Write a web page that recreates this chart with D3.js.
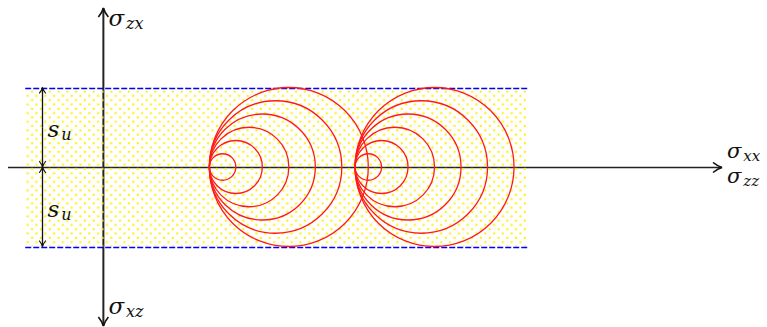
<!DOCTYPE html>
<html>
<head>
<meta charset="utf-8">
<script src="https://cdn.jsdelivr.net/npm/d3@7"></script>
<style>
  body { margin: 0; background: #fff; }
  svg { display: block; }
</style>
</head>
<body>
<div id="chart-area"></div>
<script>
// Mohr circles between the two s_u limits

var width = 767, height = 327;

// data (units: s_u / 6)
var radii = [1, 2, 3, 4, 5, 6];
var tangentPoints = [8, 19];
var su = 6;
var bandX = [-5.9, 32];
var xAxisExtent = [-7.2, 46.7];
var yAxisExtent = [-12, 12];
var labels = { up: ["σ", "zx"], down: ["σ", "xz"], right1: ["σ", "xx"], right2: ["σ", "zz"], su: ["s", "u"] };

var svg = d3.select("#chart-area").append("svg")
  .attr("width", width)
  .attr("height", height);

// Scales
var x = d3.scaleLinear().domain(xAxisExtent).range([8, 722]);
var y = d3.scaleLinear().domain(yAxisExtent).range([326, 8]);
var snap = function(v) { return Math.round(v) + 0.5; };

var defs = svg.append("defs");

// yellow dot fill
var pat = defs.append("pattern")
  .attr("id", "dots")
  .attr("patternUnits", "userSpaceOnUse")
  .attr("width", 8.8)
  .attr("height", 8.6);
pat.append("rect").attr("x", 0.3).attr("y", 0.3).attr("width", 2).attr("height", 2).attr("fill", "#ffee00");
pat.append("rect").attr("x", 4.7).attr("y", 4.6).attr("width", 2).attr("height", 2).attr("fill", "#ffee00");

function marker(id, size) {
  var m = defs.append("marker")
    .attr("id", id)
    .attr("viewBox", "-10 -6 12 12")
    .attr("refX", 0).attr("refY", 0)
    .attr("markerUnits", "userSpaceOnUse")
    .attr("markerWidth", size).attr("markerHeight", size)
    .attr("orient", "auto");
  m.append("path")
    .attr("d", "M-9,-5 Q-4,-1 0,0 Q-4,1 -9,5")
    .attr("fill", "none")
    .attr("stroke", "#111")
    .attr("stroke-width", 1.6);
}
marker("arr", 12);
marker("arrSmall", 8);

var g = svg.append("g");

// axes
g.append("line")
  .attr("x1", x(xAxisExtent[0])).attr("x2", x(xAxisExtent[1]))
  .attr("y1", snap(y(0))).attr("y2", snap(y(0)))
  .attr("stroke", "#222").attr("stroke-width", 1.5)
  .attr("marker-end", "url(#arr)");

g.append("line")
  .attr("x1", x(0)).attr("x2", x(0))
  .attr("y1", y(0)).attr("y2", y(yAxisExtent[1]))
  .attr("stroke", "#222").attr("stroke-width", 2)
  .attr("marker-end", "url(#arr)");
g.append("line")
  .attr("x1", x(0)).attr("x2", x(0))
  .attr("y1", y(0)).attr("y2", y(yAxisExtent[0]))
  .attr("stroke", "#222").attr("stroke-width", 2)
  .attr("marker-end", "url(#arr)");

// dotted band on top of the axes
g.append("rect")
  .attr("x", x(bandX[0]))
  .attr("y", y(su))
  .attr("width", x(bandX[1]) - x(bandX[0]))
  .attr("height", y(-su) - y(su))
  .attr("fill", "url(#dots)");

// blue limit lines
g.selectAll(".limit")
  .data([su, -su])
  .enter().append("line")
  .attr("class", "limit")
  .attr("x1", x(bandX[0])).attr("x2", x(bandX[1]))
  .attr("y1", function(d) { return snap(y(d)); })
  .attr("y2", function(d) { return snap(y(d)); })
  .attr("stroke", "#0000ff").attr("stroke-width", 1.4)
  .attr("stroke-dasharray", "6,2");

// s_u dimension arrows
var suX = snap(x(-4.6));
g.selectAll(".dim")
  .data([[0, su], [0, -su], [su, 0], [-su, 0]])
  .enter().append("line")
  .attr("class", "dim")
  .attr("x1", suX).attr("x2", suX)
  .attr("y1", function(d) { return y((d[0] + d[1]) / 2); })
  .attr("y2", function(d) { return y(d[1]); })
  .attr("stroke", "#111").attr("stroke-width", 1.3)
  .attr("marker-end", "url(#arrSmall)");

// Mohr circles
var circles = [];
tangentPoints.forEach(function(t) {
  radii.forEach(function(r) { circles.push({ c: t + r, r: r }); });
});

g.selectAll(".mohr")
  .data(circles)
  .enter().append("circle")
  .attr("class", "mohr")
  .attr("cx", function(d) { return x(d.c); })
  .attr("cy", y(0))
  .attr("r", function(d) { return x(d.r) - x(0); })
  .attr("fill", "none")
  .attr("stroke", "#ff1a1a")
  .attr("stroke-width", 1.3);

// labels
function addLabel(parts, px, py, size, subSize) {
  var t = g.append("text")
    .attr("x", px).attr("y", py)
    .style("font-family", "'DejaVu Serif', 'Liberation Serif', serif")
    .style("font-style", "italic")
    .style("font-size", size + "px")
    .attr("fill", "#111");
  t.append("tspan").text(parts[0]);
  t.append("tspan").attr("dx", 2).attr("dy", 3).style("font-size", subSize + "px").text(parts[1]);
}

addLabel(labels.up, x(0) + 5, 26, 23, 16);
addLabel(labels.down, x(0) + 5, 314, 23, 16);
addLabel(labels.right1, 727, 158, 21, 15);
addLabel(labels.right2, 727, 183, 21, 15);
addLabel(labels.su, suX + 5, 137, 23, 16);
addLabel(labels.su, suX + 5, 217, 23, 16);
</script>
</body>
</html>
